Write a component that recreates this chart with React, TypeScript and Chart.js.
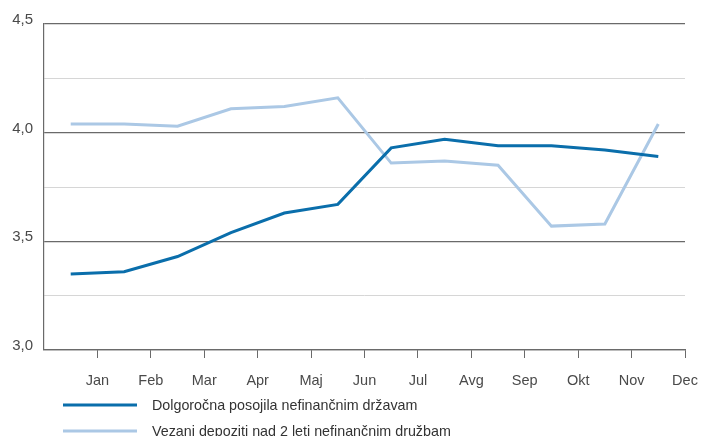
import React, { useEffect, useRef } from 'react';
import { Chart, registerables } from 'chart.js';

Chart.register(...registerables);

const monthLabels = ['Jan', 'Feb', 'Mar', 'Apr', 'Maj', 'Jun', 'Jul', 'Avg', 'Sep', 'Okt', 'Nov', 'Dec'];
const loansLabel = 'Dolgoročna posojila nefinančnim državam';
const depositsLabel = 'Vezani depoziti nad 2 leti nefinančnim družbam';
const loans = [3.35, 3.36, 3.43, 3.54, 3.63, 3.67, 3.93, 3.97, 3.94, 3.94, 3.92, 3.89];
const deposits = [4.04, 4.04, 4.03, 4.11, 4.12, 4.16, 3.86, 3.87, 3.85, 3.57, 3.58, 4.04];
const yMin = 3.0;
const yMax = 4.5;
const yStep = 0.25;
const yLabelStep = 0.5;

const FONT = '"Liberation Sans", Arial, sans-serif';

const legendPlugin = {
  id: 'customLegend',
  afterDraw(chart: any) {
    const ctx = chart.ctx;
    chart.data.datasets.forEach((ds: any, i: number) => {
      const y = 405 + i * 26;
      ctx.save();
      ctx.strokeStyle = ds.borderColor;
      ctx.lineWidth = 3;
      ctx.beginPath();
      ctx.moveTo(63, y);
      ctx.lineTo(137, y);
      ctx.stroke();
      ctx.fillStyle = '#333333';
      ctx.font = '14.3px ' + FONT;
      ctx.textBaseline = 'middle';
      ctx.textAlign = 'left';
      ctx.fillText(ds.label, 152, y + 1);
      ctx.restore();
    });
  },
};

export default function App() {
  const ref = useRef<HTMLCanvasElement>(null);
  useEffect(() => {
    if (!ref.current) return;
    const isMajor = (v: number) => Math.abs(v / yLabelStep - Math.round(v / yLabelStep)) < 1e-6;
    const chart = new Chart(ref.current, {
      type: 'line',
      data: {
        datasets: [
          {
            label: loansLabel,
            data: loans.map((v, i) => ({ x: i + 0.5, y: v })),
            borderColor: '#0a6eab',
            backgroundColor: '#0a6eab',
            borderWidth: 3,
            pointRadius: 0,
            tension: 0,
          },
          {
            label: depositsLabel,
            data: deposits.map((v, i) => ({ x: i + 0.5, y: v })),
            borderColor: '#abc8e5',
            backgroundColor: '#abc8e5',
            borderWidth: 3,
            pointRadius: 0,
            tension: 0,
          },
        ],
      },
      options: {
        animation: false,
        responsive: false,
        layout: { padding: { top: 24, right: 16, bottom: 0, left: 0 } },
        plugins: {
          legend: { display: false },
          tooltip: { enabled: false },
        },
        scales: {
          x: {
            type: 'linear',
            min: 0,
            max: 12,
            afterFit: (s: any) => { s.height = 86; s.paddingRight = 0; s.paddingLeft = 0; },
            ticks: {
              stepSize: 1,
              autoSkip: false,
              maxRotation: 0,
              padding: 14,
              color: '#4a4a4a',
              font: { family: FONT, size: 14.5 },
              callback: (v: any) => (v >= 1 && v <= 12 ? monthLabels[v - 1] : ''),
            },
            grid: {
              drawOnChartArea: false,
              drawTicks: true,
              tickLength: 8,
              tickColor: (c: any) => (c.tick && c.tick.value === 0 ? 'rgba(0,0,0,0)' : '#6a6a6a'),
            },
            border: { color: '#6a6a6a', width: 1.2 },
          },
          y: {
            min: yMin,
            max: yMax,
            afterFit: (s: any) => { s.width = 44; },
            ticks: {
              stepSize: yStep,
              padding: 11,
              labelOffset: -4,
              color: '#4a4a4a',
              font: { family: FONT, size: 15 },
              callback: (v: any) => (isMajor(v) ? Number(v).toFixed(1).replace('.', ',') : ''),
            },
            grid: {
              drawTicks: false,
              tickLength: 0,
              color: (c: any) => (c.tick && isMajor(c.tick.value) ? '#6a6a6a' : '#d6d6d6'),
              lineWidth: (c: any) => (c.tick && isMajor(c.tick.value) ? 1.2 : 1),
            },
            border: { color: '#6a6a6a', width: 1.2 },
          },
        },
      },
      plugins: [legendPlugin],
    });
    return () => chart.destroy();
  }, []);
  return (
    <div style={{ position: 'absolute', left: 0, top: 0, width: 701, height: 436, background: '#fff' }}>
      <canvas ref={ref} width={701} height={436} />
    </div>
  );
}
